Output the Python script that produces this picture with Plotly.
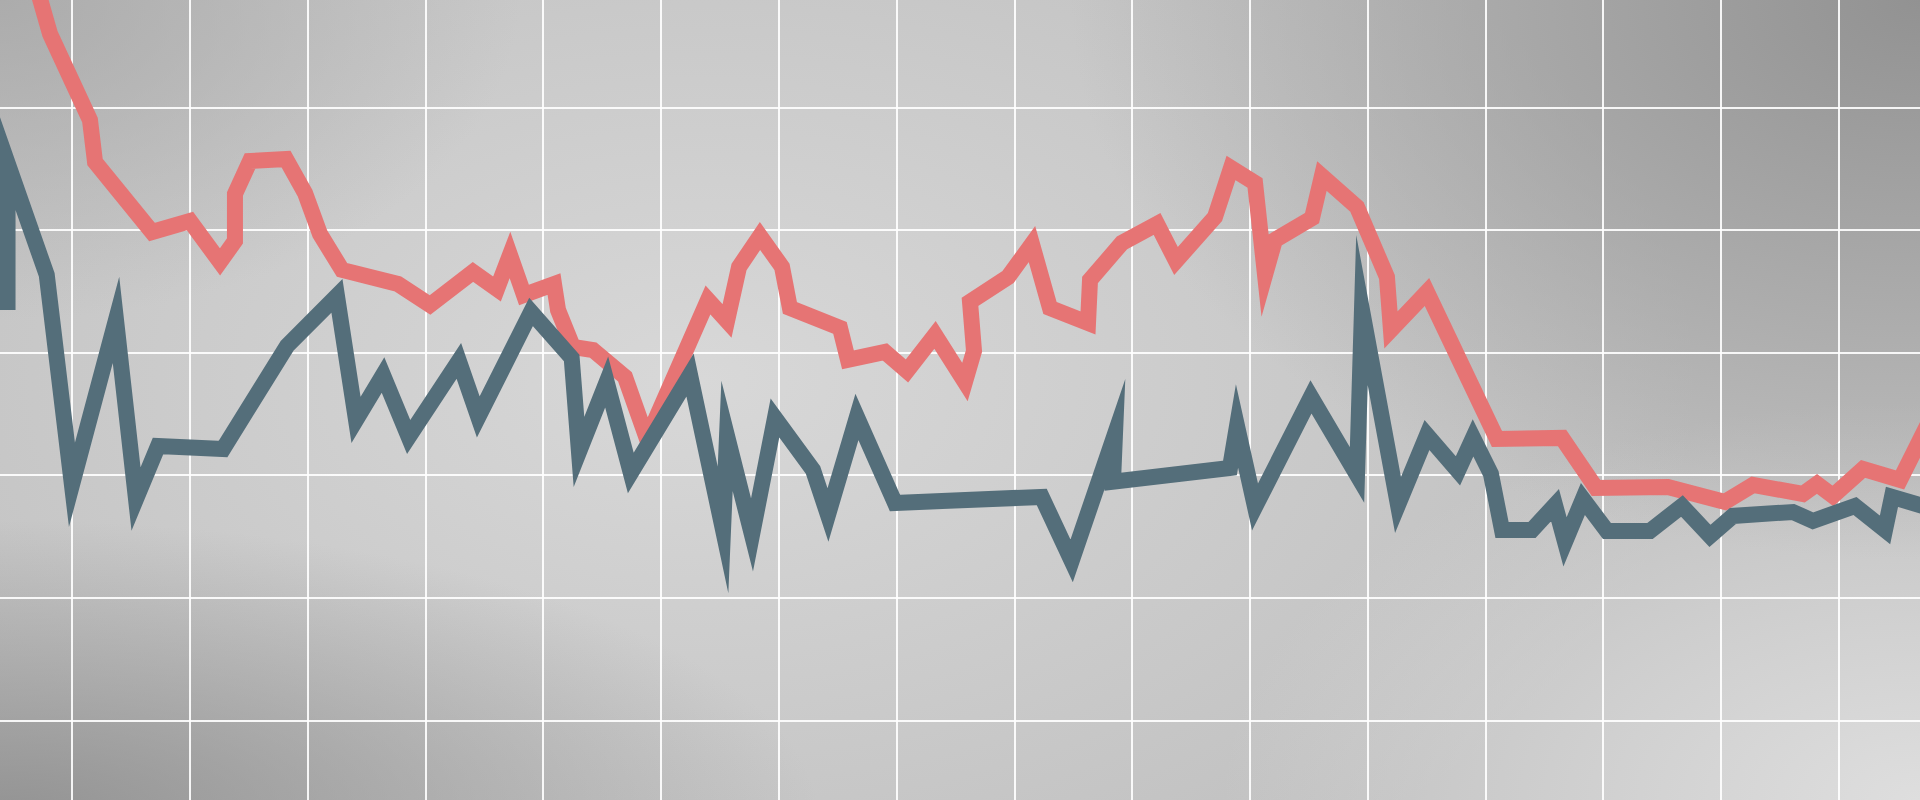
import base64
import plotly.graph_objects as go

# ---- data (x: session index, y: value) ----
red_x = [-3.08, -1.89, 1.50, 1.93, 6.77, 9.99, 12.54, 13.81, 13.81, 15.09, 18.14, 19.76, 21.03, 22.90,
         27.65, 30.37, 34.02, 36.06, 37.16, 38.35, 40.90, 41.24, 42.51, 44.21, 46.93, 48.79, 53.97,
         55.59, 56.61, 58.39, 60.26, 60.93, 65.18, 65.86, 69.00, 70.87, 73.25, 75.79, 76.56, 76.22,
         79.45, 81.48, 83.01, 86.24, 86.41, 89.12, 92.10, 93.71, 97.02, 98.38, 100.42, 101.27, 102.11,
         105.26, 106.10, 109.08, 111.62, 111.96, 115.02, 120.96, 126.48, 129.37, 135.48, 140.32,
         142.70, 146.94, 148.13, 149.49, 152.04, 155.18, 158.15]
red_y = [60.0, 56.0, 48.98, 45.56, 39.85, 40.75, 37.41, 39.12, 42.95, 45.64, 45.81, 43.03, 39.69, 36.76,
         35.61, 33.90, 36.59, 35.21, 37.98, 34.72, 35.61, 33.49, 30.48, 30.23, 28.03, 22.98, 34.31,
         32.60, 37.00, 39.53, 37.00, 33.66, 32.03, 29.42, 30.07, 28.52, 31.46, 27.62, 30.15, 34.15,
         36.18, 38.87, 33.66, 32.43, 35.94, 38.96, 40.51, 37.49, 41.08, 45.07, 43.85, 36.35, 39.20,
         40.99, 44.42, 41.89, 36.18, 31.86, 34.96, 22.98, 23.06, 18.98, 19.06, 17.84,
         19.23, 18.49, 19.31, 18.33, 20.53, 19.63, 25.34]

slate_x = [-5.50, -5.50, -2.17, -0.03, 3.71, 5.41, 7.28, 12.80, 18.23, 22.47, 24.09, 26.38, 28.56,
           32.82, 34.47, 38.95, 42.40, 43.02, 45.37, 47.42, 52.45, 55.25, 55.59, 57.71, 59.66, 62.89,
           64.16, 66.62, 69.85, 82.31, 84.85, 88.53, 88.36, 98.29, 98.89, 100.42, 105.17, 109.08,
           109.50, 112.56, 115.02, 117.65, 118.93, 120.45, 121.39, 123.94, 125.89, 126.74, 128.26,
           130.30, 133.95, 136.67, 139.05, 141.00, 146.09, 147.79, 151.36, 153.91, 154.50, 157.72]
slate_y = [33.49, 45.48, 36.35, 19.23, 32.68, 18.08, 22.41, 22.16, 30.56, 34.64, 24.53, 28.19, 23.14,
           29.34, 24.77, 33.33, 29.58, 21.92, 27.62, 20.20, 28.19, 15.56, 23.22, 15.15, 24.69, 20.45,
           16.78, 24.77, 17.76, 18.25, 13.03, 23.38, 19.49, 20.61, 24.04, 17.43, 26.40, 20.04,
           33.49, 17.59, 23.30, 20.37, 23.06, 20.12, 15.56, 15.56, 17.59, 14.58, 18.08,
           15.47, 15.47, 17.51, 15.07, 16.70, 17.02, 16.29, 17.51, 15.56, 18.25, 17.35]

x_range = [-6.139, 156.88]
y_range = [-6.466, 58.77]

RED = "#E67474"
SLATE = "#546E7A"

# ---- soft grey backdrop (SVG gradients) ----
def blob(gid, cx, cy, rx, ry, color, op):
    return (f'<radialGradient id="{gid}" gradientUnits="userSpaceOnUse" cx="0" cy="0" r="1" '
            f'gradientTransform="translate({cx} {cy}) scale({rx} {ry})">'
            f'<stop offset="0" stop-color="{color}" stop-opacity="{op}"/>'
            f'<stop offset="1" stop-color="{color}" stop-opacity="0"/></radialGradient>')

blobs = [
    ("g1", 700, 380, 1000, 600, "#d8d8d8", 1),
    ("g2", 1920, 800, 700, 400, "#dedede", 1),
    ("g3", 1920, 0, 850, 560, "#929292", 1),
    ("g4", 0, 820, 820, 300, "#8a8a8a", 0.85),
    ("g5", 0, 0, 520, 320, "#a8a8a8", 0.85),
]
defs = "".join(blob(*b) for b in blobs)
rects = "".join(f'<rect width="1920" height="800" fill="url(#{b[0]})"/>' for b in blobs)
svg = (f'<svg xmlns="http://www.w3.org/2000/svg" width="1920" height="800" viewBox="0 0 1920 800">'
       f'<defs>{defs}</defs><rect width="1920" height="800" fill="#c0c0c0"/>{rects}</svg>')
bg_src = "data:image/svg+xml;base64," + base64.b64encode(svg.encode()).decode()

fig = go.Figure()
fig.add_trace(go.Scatter(x=red_x, y=red_y, mode="lines",
                         line=dict(color=RED, width=16), hoverinfo="skip", showlegend=False))
fig.add_trace(go.Scatter(x=slate_x, y=slate_y, mode="lines",
                         line=dict(color=SLATE, width=16), hoverinfo="skip", showlegend=False))

fig.update_layout(
    width=1920, height=800,
    margin=dict(l=0, r=0, t=0, b=0),
    paper_bgcolor="#c0c0c0",
    plot_bgcolor="rgba(0,0,0,0)",
    images=[dict(source=bg_src, xref="paper", yref="paper", x=0, y=1, sizex=1, sizey=1,
                 sizing="stretch", layer="below", xanchor="left", yanchor="top")],
    xaxis=dict(range=x_range, tick0=0, dtick=10, showgrid=True, gridcolor="rgba(255,255,255,0.9)",
               gridwidth=2, zeroline=False, showticklabels=False, ticks="", showline=False, fixedrange=True),
    yaxis=dict(range=y_range, tick0=0, dtick=10, showgrid=True, gridcolor="rgba(255,255,255,0.9)",
               gridwidth=2, zeroline=False, showticklabels=False, ticks="", showline=False, fixedrange=True),
)

post = ("document.body.style.margin='0';document.body.style.overflow='hidden';"
        "document.querySelectorAll('path.js-line').forEach(function(p){p.style.strokeMiterlimit='60';"
        "p.style.strokeLinejoin='miter';});")
fig.write_html("out.html", post_script=post, config={"displayModeBar": False, "staticPlot": True})
